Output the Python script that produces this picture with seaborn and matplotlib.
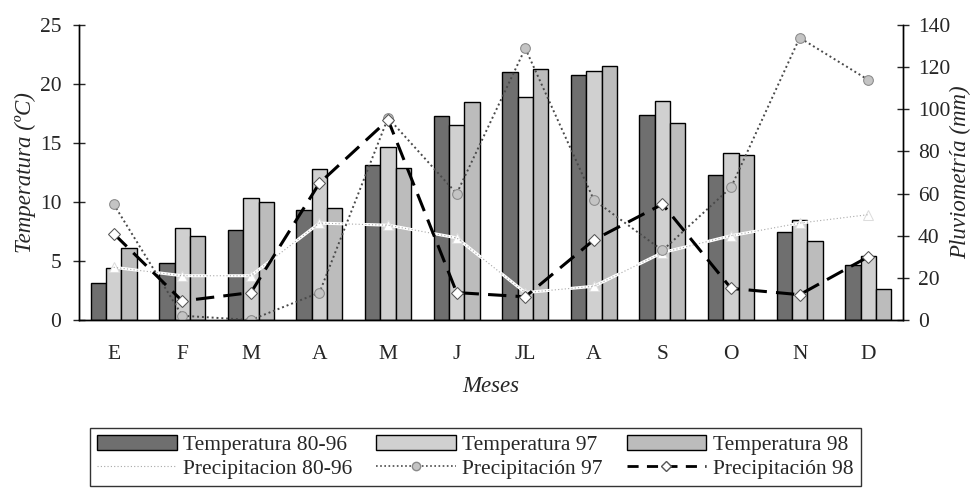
import numpy as np
import pandas as pd
import seaborn as sns
import matplotlib.pyplot as plt
from matplotlib.lines import Line2D
from matplotlib.patches import Patch

# monthly values
meses = ["E", "F", "M", "A", "M", "J", "JL", "A", "S", "O", "N", "D"]
temp_8096 = [3.1, 4.8, 7.6, 9.3, 13.1, 17.3, 21.0, 20.8, 17.4, 12.3, 7.5, 4.7]
temp_97 = [4.4, 7.8, 10.3, 12.8, 14.7, 16.5, 18.9, 21.1, 18.6, 14.2, 8.5, 5.4]
temp_98 = [6.1, 7.1, 10.0, 9.5, 12.9, 18.5, 21.3, 21.5, 16.7, 14.0, 6.7, 2.6]
prec_8096 = [25, 21, 21, 46, 45, 39, 13, 16, 32, 40, 46, 50]
prec_97 = [55, 2, 0, 13, 96, 60, 129, 57, 33, 63, 134, 114]
prec_98 = [41, 9, 13, 65, 95, 13, 11, 38, 55, 15, 12, 30]

series_t = ["Temperatura 80-96", "Temperatura 97", "Temperatura 98"]
colores_t = ["#6f6f6f", "#d0d0d0", "#bcbcbc"]

sns.set_style("white")
plt.rcParams["font.family"] = ["Liberation Serif", "DejaVu Serif"]

idx = list(range(len(meses)))
temp = pd.DataFrame({
    "mes": idx * 3,
    "serie": np.repeat(series_t, len(meses)),
    "valor": temp_8096 + temp_97 + temp_98,
})

fig = plt.figure(figsize=(9.8, 4.93), dpi=100)
ax = fig.add_axes([0.081, 0.351, 0.840, 0.598])

sns.barplot(data=temp, x="mes", y="valor", hue="serie", hue_order=series_t,
            palette=colores_t, width=0.67, gap=0, edgecolor="black",
            linewidth=1.0, saturation=1, legend=False, ax=ax)

ax2 = ax.twinx()
prec = pd.DataFrame({"mes": idx, "p8096": prec_8096, "p97": prec_97, "p98": prec_98})

# precipitation 80-96: white line with light dotted edge
sns.lineplot(data=prec, x="mes", y="p8096", color="white", linewidth=2.2,
             marker="^", markersize=7, markerfacecolor="white",
             markeredgecolor="#dddddd", ax=ax2)
sns.lineplot(data=prec, x="mes", y="p8096", color="#a8a8a8", linewidth=0.8,
             linestyle=(0, (1, 2)), ax=ax2)
sns.lineplot(data=prec, x="mes", y="p97", color="#4a4a4a", linewidth=1.4,
             linestyle=(0, (1, 1.5)), marker="o", markersize=7,
             markerfacecolor="#c4c4c4", markeredgecolor="#8a8a8a", ax=ax2)
sns.lineplot(data=prec, x="mes", y="p98", color="black", linewidth=2.2,
             linestyle=(0, (6, 3)), marker="D", markersize=6,
             markerfacecolor="white", markeredgecolor="#555555", ax=ax2)

ax.set_xlim(-0.5, 11.5)
ax.set_ylim(0, 25)
ax2.set_ylim(0, 140)
ax.set_yticks(range(0, 26, 5))
ax2.set_yticks(range(0, 141, 20))

ax.set_xticks(idx)
ax.set_xticklabels(meses)
ax.set_xticks(np.arange(-0.5, 12, 1), minor=True)
ax.tick_params(axis="x", which="major", length=0, pad=18, labelsize=15.5)
ax.tick_params(axis="x", which="minor", length=8, direction="inout", width=1)
ax.tick_params(axis="y", length=8, direction="inout", width=1, labelsize=15.5,
               left=True, pad=9)
ax2.tick_params(axis="y", length=8, direction="inout", width=1, labelsize=15.5,
                right=True, pad=7)

for a in (ax, ax2):
    a.spines["top"].set_visible(False)
    for s in ("left", "right", "bottom"):
        a.spines[s].set_color("black")
        a.spines[s].set_linewidth(1)

ax.set_xlabel("Meses", fontsize=16.5, style="italic", labelpad=9)
ax.set_ylabel("Temperatura (ºC)", fontsize=16.5, style="italic", labelpad=3)
ax2.set_ylabel("Pluviometría (mm)", fontsize=16.5, style="italic", labelpad=0)

handles = [
    Patch(facecolor=colores_t[0], edgecolor="black", label="Temperatura 80-96"),
    Line2D([], [], color="#a8a8a8", lw=0.8, linestyle=(0, (1, 2)), label="Precipitacion 80-96"),
    Patch(facecolor=colores_t[1], edgecolor="black", label="Temperatura 97"),
    Line2D([], [], color="#4a4a4a", lw=1.2, linestyle=(0, (1, 1.5)), marker="o",
           markersize=6, markerfacecolor="#c4c4c4", markeredgecolor="#8a8a8a",
           label="Precipitación 97"),
    Patch(facecolor=colores_t[2], edgecolor="black", label="Temperatura 98"),
    Line2D([], [], color="black", lw=2, linestyle=(0, (4, 3)), marker="D",
           markersize=5, markerfacecolor="white", markeredgecolor="#555555",
           label="Precipitación 98"),
]
leg = fig.legend(handles=handles, ncol=3, loc="lower center",
                 bbox_to_anchor=(0.485, -0.008), fontsize=15.5, frameon=True,
                 fancybox=False, edgecolor="black", handlelength=3.7,
                 handleheight=0.7, columnspacing=1.1, handletextpad=0.3,
                 borderpad=0.35, labelspacing=0.15)
leg.get_frame().set_linewidth(1)

fig.savefig("out.png", dpi=100)
